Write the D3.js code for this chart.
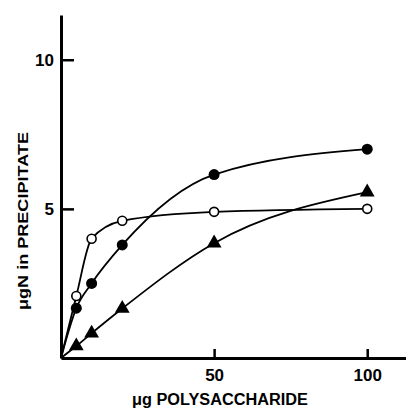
<!DOCTYPE html>
<html>
<head>
<meta charset="utf-8">
<script src="https://cdn.jsdelivr.net/npm/d3@7"></script>
<style>
  body { margin: 0; background: #fff; }
  svg text { font-family: "Liberation Sans", Arial, sans-serif; font-weight: bold; fill: #000; }
</style>
</head>
<body>
<script>
// ug polysaccharide added
const dose = [5, 10, 20, 50, 100];
// ug N in precipitate
const openCircle = [2.08, 4.0, 4.6, 4.9, 5.0];
const filledCircle = [1.67, 2.5, 3.79, 6.15, 7.0];
const triangle = [0.4, 0.83, 1.66, 3.85, 5.56];
const xTicks = [50, 100];
const yTicks = [5, 10];

const width = 407, height = 409;

let svg = d3.select("body").append("svg")
    .attr("width", width)
    .attr("height", height);

// scales
let x = d3.scaleLinear().domain([0, 112.5]).range([61, 405.5]);
let y = d3.scaleLinear().domain([0, 11.5]).range([358, 15]);

function pts(vals){
    // every curve starts at the origin
    return [[0, 0]].concat(dose.map((d, i) => [d, vals[i]]));
}

let line = d3.line()
    .x(d => x(d[0]))
    .y(d => y(d[1]))
    .curve(d3.curveMonotoneX);

// curves
[openCircle, filledCircle, triangle].forEach(function(vals){
    svg.append("path")
        .attr("d", line(pts(vals)))
        .attr("fill", "none")
        .attr("stroke", "#000")
        .attr("stroke-width", 1.8);
});

// axes
let xAxis = svg.append("g")
    .attr("transform", "translate(0," + y(0) + ")")
    .call(d3.axisBottom(x).tickValues(xTicks).tickSizeInner(-9).tickSizeOuter(0).tickPadding(11));
let yAxis = svg.append("g")
    .attr("transform", "translate(" + x(0) + ",0)")
    .call(d3.axisLeft(y).tickValues(yTicks).tickSizeInner(-13).tickSizeOuter(0).tickPadding(7));

[xAxis, yAxis].forEach(function(g){
    g.select(".domain").attr("stroke", "#000").attr("stroke-width", 3);
    g.selectAll(".tick line").attr("stroke", "#000").attr("stroke-width", 2.5);
    g.selectAll(".tick text")
        .attr("fill", "#000")
        .style("font-size", "17px")
        .style("font-family", "'Liberation Sans', Arial, sans-serif")
        .style("font-weight", "bold");
});

// markers
svg.selectAll(".open")
    .data(dose)
    .enter()
    .append("circle")
    .attr("cx", d => x(d))
    .attr("cy", (d, i) => y(openCircle[i]))
    .attr("r", 4.5)
    .attr("fill", "#fff")
    .attr("stroke", "#000")
    .attr("stroke-width", 1.6);

svg.selectAll(".filled")
    .data(dose)
    .enter()
    .append("circle")
    .attr("cx", d => x(d))
    .attr("cy", (d, i) => y(filledCircle[i]))
    .attr("r", 5.5)
    .attr("fill", "#000");

svg.selectAll(".tri")
    .data(dose)
    .enter()
    .append("path")
    .attr("d", d3.symbol().type(d3.symbolTriangle).size(95))
    .attr("transform", (d, i) => "translate(" + x(d) + "," + y(triangle[i]) + ")")
    .attr("fill", "#000");

// axis titles
svg.append("text")
    .attr("x", 220)
    .attr("y", 405)
    .attr("text-anchor", "middle")
    .attr("textLength", 176)
    .attr("lengthAdjust", "spacingAndGlyphs")
    .style("font-size", "16px")
    .text("μg POLYSACCHARIDE");

svg.append("text")
    .attr("transform", "translate(28,221) rotate(-90)")
    .attr("text-anchor", "middle")
    .attr("textLength", 178)
    .attr("lengthAdjust", "spacingAndGlyphs")
    .style("font-size", "15px")
    .text("μgN in PRECIPITATE");
</script>
</body>
</html>
